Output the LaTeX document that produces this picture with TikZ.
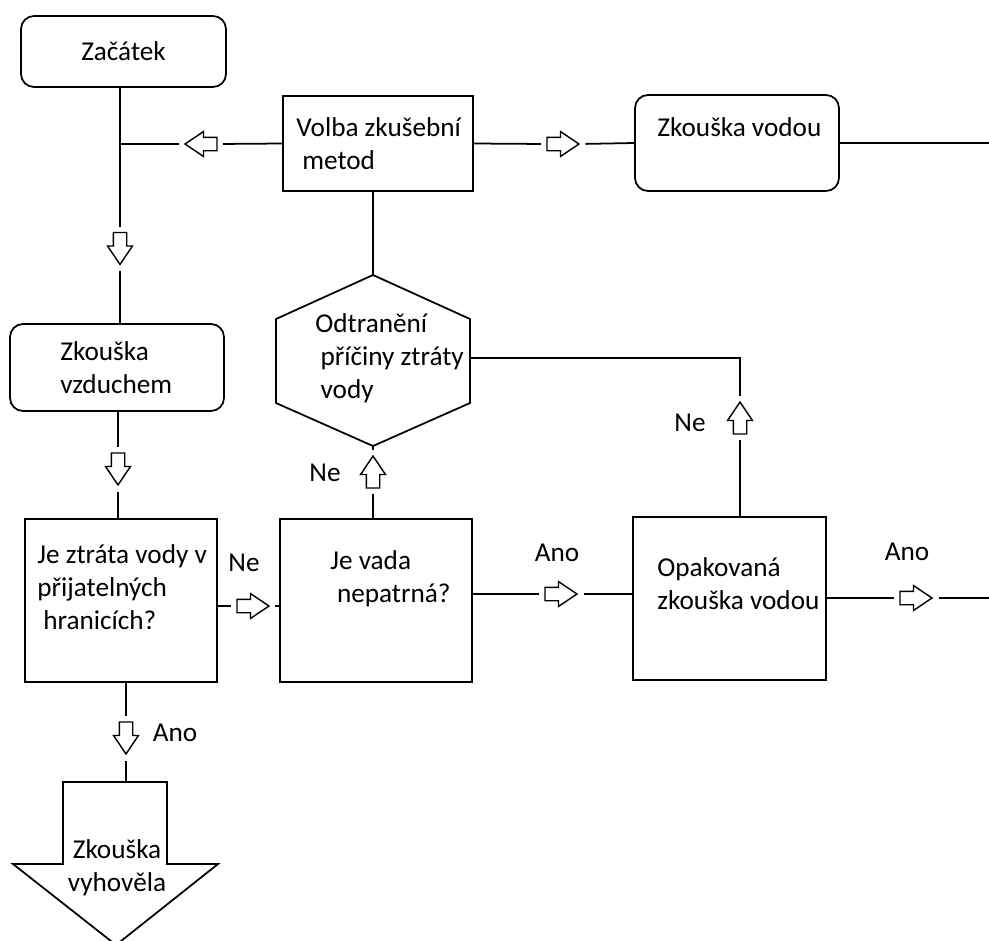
\documentclass[tikz,border=0pt]{standalone}
\usepackage{fontspec}
\setmainfont{Carlito}
\usetikzlibrary{shapes.arrows}
\usetikzlibrary{positioning}

\tikzset{
  box/.style={draw, line width=1pt, inner sep=0pt, font=\fontsize{15.5}{18.7}\selectfont},
  termbox/.style={box, rounded corners=0.26cm},
  txt/.style={inner sep=0pt, align=left, anchor=west, font=\fontsize{15.5}{18.7}\selectfont},
  hollow/.style={single arrow, draw, fill=white, line width=0.8pt, inner sep=0.12cm,
    minimum height=0.64cm, single arrow head extend=0.115cm, single arrow tip angle=68},
  link/.style={draw, line width=1pt},
}

\begin{document}
\begin{tikzpicture}[x=0.02cm, y=-0.02cm]
    \useasboundingbox (0,0) rectangle (989,940);
    \coordinate (edgeR) at (989,0);

    % Start
    \node[termbox, minimum width=4.1cm, minimum height=1.42cm] (zacatek) at (123.5,51.5) {Začátek};
    \coordinate (j1) at (120,144);

    % Choice of the method
    \node[box, minimum width=3.8cm, minimum height=1.9cm] (volba) at (378,143.5) {};
    \node[txt] (volbaT) at (296,143.5) {Volba zkušební\\\hspace{3.4pt}metod};

    % Water test
    \node[termbox, minimum width=4.08cm, minimum height=1.92cm] (vodou) at (737,143) {};
    \node[txt] (vodouT) at (657,127) {Zkouška vodou};

    % Air test
    \node[termbox, minimum width=4.28cm, minimum height=1.74cm] (vzduch) at (117,367.5) {};
    \node[txt] (vzduchT) at (60,367.5) {Zkouška\\vzduchem};

    % Repair (hexagon)
    \coordinate (hexT) at (373,275);
    \coordinate (hexB) at (373,446);
    \coordinate (hexR) at (470,358);
    \draw[line width=1pt] (hexT) -- (470,319) -- (470,403) -- (hexB) -- (276,403) -- (276,319) -- cycle;
    \node[txt] (hexTxt) at (315,358.5) {Odtranění\\\hspace{3pt}příčiny ztráty\\\hspace{3pt}vody};

    % Questions
    \node[box, minimum width=3.84cm, minimum height=3.26cm] (ztrata) at (121,600.5) {};
    \node[txt] (ztrataT) at (37,587) {Je ztráta vody v\\přijatelných\\\hspace{3.4pt}hranicích?};
    \node[box, minimum width=3.84cm, minimum height=3.26cm] (vada) at (376,600.5) {};
    \node[txt] (vadaT) at (330,578.5) {Je vada\\\hspace{3.8pt}nepatrná?};

    % Repeated water test
    \node[box, minimum width=3.86cm, minimum height=3.26cm] (opak) at (729.5,598.5) {};
    \node[txt] (opakT) at (657,583.5) {Opakovaná\\zkouška vodou};

    % Test passed
    \coordinate (vyhovTop) at (126,782);
    \draw[line width=1pt] (63,782) -- (167,782) -- (167,864) -- (218,864) -- (116,945)
        -- (13,864) -- (63,864) -- cycle;
    \node[txt, anchor=center, align=center] (vyhovT) at (117,868) {Zkouška\\vyhověla};

    % Hollow arrows
    \node[hollow, shape border rotate=180] (aLeft) at (206,144) {};
    \node[hollow] (aRight1) at (558,144) {};
    \node[hollow, shape border rotate=270] (aDown1) at (120,243.5) {};
    \node[hollow, shape border rotate=270] (aDown2) at (118,464) {};
    \node[hollow] (aRight2) at (248,606) {};
    \node[hollow, shape border rotate=270] (aDown3) at (126,733) {};
    \node[hollow, shape border rotate=90] (aUp1) at (373,477) {};
    \node[hollow, shape border rotate=90] (aUp2) at (740,423) {};
    \node[hollow] (aRight3) at (556,594) {};
    \node[hollow] (aRight4) at (911,598) {};

    % Labels
    \node[txt, anchor=center] (ne1) at (244,563) {Ne};
    \node[txt, anchor=center] (ano1) at (175,733) {Ano};
    \node[txt, anchor=center] (ne2) at (325,473) {Ne};
    \node[txt, anchor=center] (ne3) at (690,423) {Ne};
    \node[txt, anchor=center] (ano2) at (557,553) {Ano};
    \node[txt, anchor=center] (ano3) at (907,552) {Ano};

    % Connectors
    \draw[link, shorten >=3pt] (zacatek.south -| j1) -- (j1) -- (aDown1.tail);
    \draw[link, shorten <=3pt] (aDown1.tip) -- (aDown1.tip |- vzduch.north);
    \draw[link, shorten >=3pt] (volba.west) -- (aLeft.tail);
    \draw[link, shorten <=3pt] (aLeft.tip) -- (j1);
    \draw[link, shorten >=3pt] (volba.east) -- (aRight1.tail);
    \draw[link, shorten <=3pt] (aRight1.tip) -- (vodou.west);
    \draw[link] (vodou.east) -- (vodou.east -| edgeR);
    \draw[link] (hexT |- volba.south) -- (hexT);

    \draw[link, shorten >=3pt] (aDown2.tail |- vzduch.south) -- (aDown2.tail);
    \draw[link, shorten <=3pt] (aDown2.tip) -- (aDown2.tip |- ztrata.north);
    \draw[link, shorten >=3pt] (ztrata.east |- aRight2) -- (aRight2.tail);
    \draw[link, shorten <=3pt] (aRight2.tip) -- (aRight2.tip -| vada.west);
    \draw[link, shorten >=3pt] (aDown3.tail |- ztrata.south) -- (aDown3.tail);
    \draw[link, shorten <=3pt] (aDown3.tip) -- (aDown3.tip |- vyhovTop);

    \draw[link, shorten >=3pt] (aUp1.tail |- vada.north) -- (aUp1.tail);
    \draw[link, shorten <=3pt] (aUp1.tip) -- (hexB);
    \draw[link, shorten >=3pt] (vada.east |- aRight3) -- (aRight3.tail);
    \draw[link, shorten <=3pt] (aRight3.tip) -- (aRight3.tip -| opak.west);

    \draw[link, shorten >=3pt] (aUp2.tail |- opak.north) -- (aUp2.tail);
    \draw[link, shorten <=3pt] (aUp2.tip) -- (aUp2.tip |- hexR) -- (hexR);
    \draw[link, shorten >=3pt] (opak.east |- aRight4) -- (aRight4.tail);
    \draw[link, shorten <=3pt] (aRight4.tip) -- (aRight4.tip -| edgeR);
\end{tikzpicture}
\end{document}
